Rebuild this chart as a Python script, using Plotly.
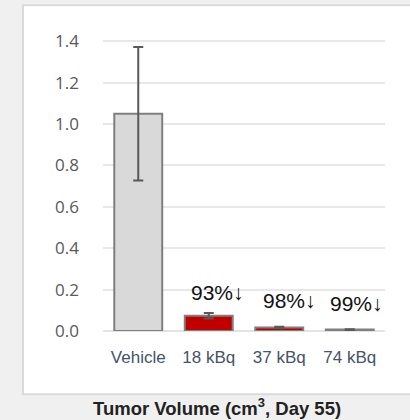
import plotly.graph_objects as go

categories = ["Vehicle", "18 kBq", "37 kBq", "74 kBq"]
volumes = [1.05, 0.074, 0.017, 0.007]
errors = [0.323, 0.013, 0.004, 0.002]
bar_colors = ["#d9d9d9", "#c00000", "#c00000", "#c00000"]
reductions = ["", "93%↓", "98%↓", "99%↓"]
label_x_offset = [0, 0.13, 0.15, 0.09]
label_y = [0, 0.187, 0.148, 0.134]
y_ticks = [0.0, 0.2, 0.4, 0.6, 0.8, 1.0, 1.2, 1.4]
title_text = "Tumor Volume (cm<sup>3</sup>, Day 55)"

fig = go.Figure()
fig.add_trace(go.Bar(
    x=categories, y=volumes,
    marker=dict(color=bar_colors, line=dict(color="#7f7f7f", width=2)),
    error_y=dict(type="data", array=errors, color="#595959", thickness=2, width=5),
    showlegend=False,
))

for i, txt in enumerate(reductions):
    if txt:
        fig.add_annotation(x=i + label_x_offset[i], y=label_y[i], xref="x", yref="y",
                           text=txt, showarrow=False,
                           font=dict(family="Liberation Sans, Arial", size=21, color="#111111"))

fig.add_annotation(x=0.406, y=-0.252, xref="paper", yref="paper", text="<b>" + title_text + "</b>",
                   showarrow=False, xanchor="center", yanchor="middle",
                   font=dict(family="Liberation Sans, Arial", size=18.5, color="#222222"))

# white panel
fig.add_shape(type="rect", xref="paper", yref="paper", x0=-0.2837, x1=1.2, y0=-0.211, y1=1.0857,
              fillcolor="white", line=dict(color="#dadada", width=2), layer="below")

fig.update_layout(
    width=410, height=420,
    margin=dict(l=103, r=25, t=31, b=89),
    paper_bgcolor="#f0f0f0", plot_bgcolor="white",
    bargap=0.32,
    xaxis=dict(range=[-0.5, 3.5], showgrid=False, showline=False, zeroline=False,
               tickfont=dict(family="Liberation Sans, Arial", size=17, color="#44546a"),
               ticklabelstandoff=14),
    yaxis=dict(range=[0, 1.45], tickvals=y_ticks, ticktext=[f"{v:.1f}" for v in y_ticks],
               showgrid=True, gridcolor="#e8e8e8", gridwidth=1.5, zeroline=True,
               zerolinecolor="#e3e3e3", zerolinewidth=1.5, showline=False,
               tickfont=dict(family="Open Sans, Liberation Sans", size=17, color="#595959"),
               ticklabelstandoff=23),
)

fig.write_html("out.html", config={"displayModeBar": False},
               post_script="document.body.style.margin='0';document.body.style.overflow='hidden';")
